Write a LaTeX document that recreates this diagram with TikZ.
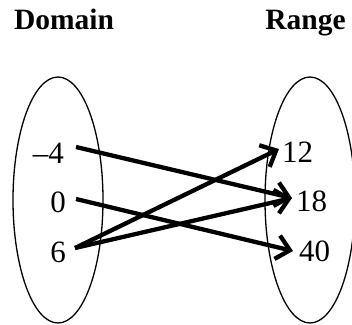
\documentclass[tikz,border=0pt]{standalone}
\usepackage{fontspec}
\setmainfont{Liberation Serif}
\usetikzlibrary{arrows.meta}
\begin{document}
\begin{tikzpicture}[x=1pt,y=-1pt,
  title/.style={font=\fontsize{29.5}{29.5}\selectfont\bfseries, inner sep=0pt, anchor=base},
  num/.style={font=\fontsize{31}{31}\selectfont, inner sep=0pt},
  setoval/.style={draw=black, line width=1.3pt},
  maparrow/.style={draw=black, line width=4.3pt, -{Straight Barb[length=13pt,width=24pt,line width=4.3pt]}}
]
\useasboundingbox (0,0) rectangle (352,324);
\node[title] (dom) at (64,29.5) {Domain};
\node[title] (ran) at (305.5,29.5) {Range};
\draw[setoval] (58,200) ellipse [x radius=45pt, y radius=123pt];
\draw[setoval] (310,200) ellipse [x radius=45pt, y radius=123pt];
\node[num, anchor=east] (m4) at (64,153.5) {–4};
\node[num, anchor=east] (z0) at (66,202) {0};
\node[num, anchor=east] (s6) at (66,252) {6};
\node[num, anchor=west] (r12) at (282,152) {12};
\node[num, anchor=west] (r18) at (296,201.5) {18};
\node[num, anchor=west] (r40) at (299,251.5) {40};
\coordinate (a1) at (76,147);
\coordinate (a2) at (76,199);
\coordinate (a3) at (75,248);
\coordinate (b12) at (279,149);
\coordinate (b18) at (292,198);
\coordinate (b40) at (293,251);
\draw[maparrow] (a1) -- (b18);
\draw[maparrow] (a2) -- (b40);
\draw[maparrow] (a3) -- (b12);
\draw[maparrow] (a3) -- (b18);
\end{tikzpicture}
\end{document}
